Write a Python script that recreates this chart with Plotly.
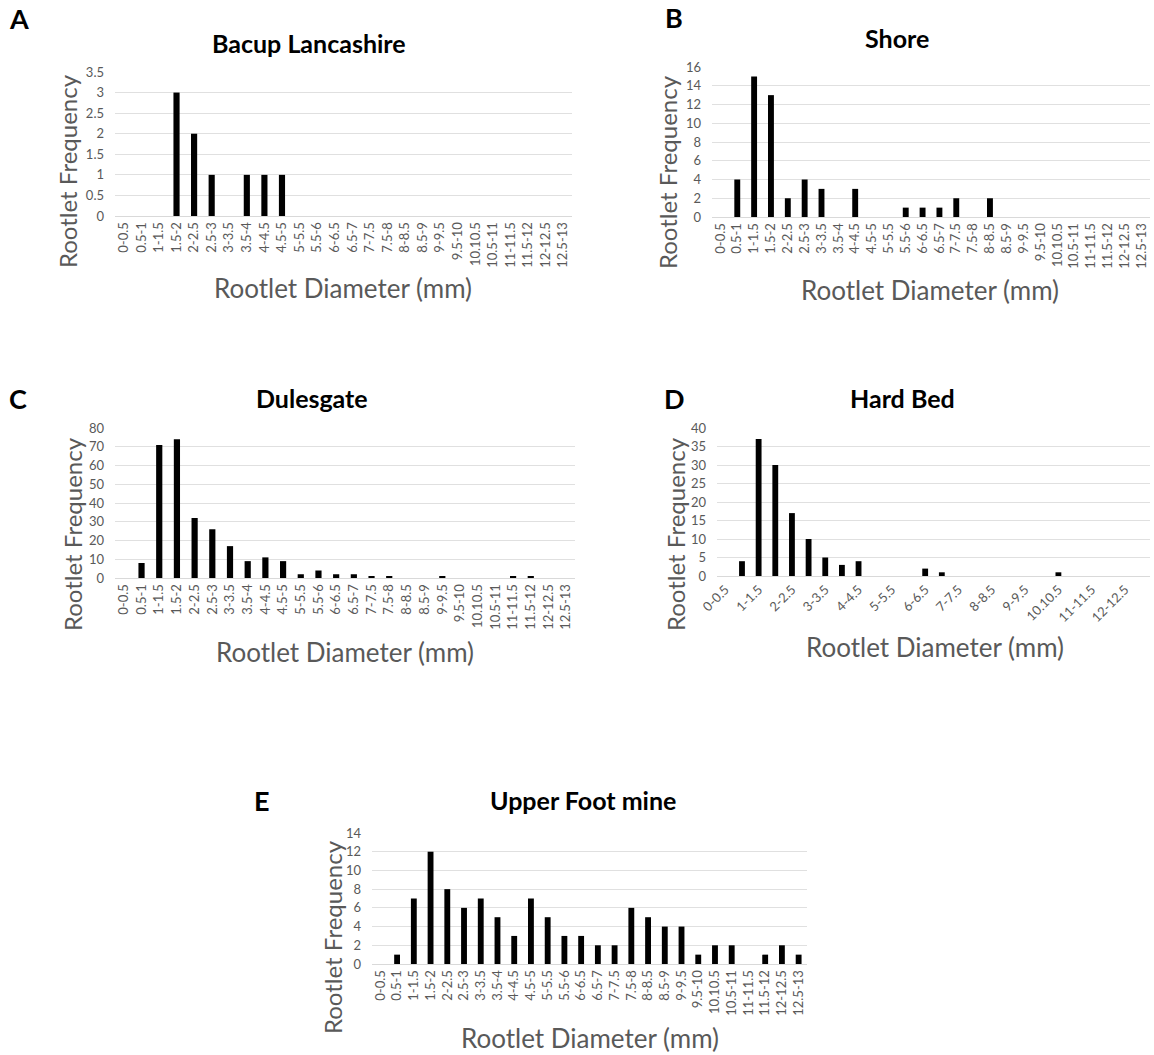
import plotly.graph_objects as go

categories = ["0-0.5", "0.5-1", "1-1.5", "1.5-2", "2-2.5", "2.5-3", "3-3.5", "3.5-4",
              "4-4.5", "4.5-5", "5-5.5", "5.5-6", "6-6.5", "6.5-7", "7-7.5", "7.5-8",
              "8-8.5", "8.5-9", "9-9.5", "9.5-10", "10.10.5", "10.5-11", "11-11.5",
              "11.5-12", "12-12.5", "12.5-13"]

bacup = [0, 0, 0, 3, 2, 1, 0, 1, 1, 1, 0, 0, 0, 0, 0, 0, 0, 0, 0, 0, 0, 0, 0, 0, 0, 0]
shore = [0, 4, 15, 13, 2, 4, 3, 0, 3, 0, 0, 1, 1, 1, 2, 0, 2, 0, 0, 0, 0, 0, 0, 0, 0, 0]
dulesgate = [0, 8, 71, 74, 32, 26, 17, 9, 11, 9, 2, 4, 2, 2, 1, 1, 0, 0, 1, 0, 0, 0, 1, 1, 0, 0]
hard_bed = [0, 4, 37, 30, 17, 10, 5, 3, 4, 0, 0, 0, 2, 1, 0, 0, 0, 0, 0, 0, 1, 0, 0, 0, 0, 0]
upper_foot = [0, 1, 7, 12, 8, 6, 7, 5, 3, 7, 5, 3, 3, 2, 2, 6, 5, 4, 4, 1, 2, 2, 0, 1, 2, 1]

titles = ["Bacup Lancashire", "Shore", "Dulesgate", "Hard Bed", "Upper Foot mine"]
letters = ["A", "B", "C", "D", "E"]
y_max = [3.5, 16, 80, 40, 14]
y_step = [0.5, 2, 10, 5, 2]
series = [bacup, shore, dulesgate, hard_bed, upper_foot]

W, H = 1154, 1055
FONT = "Lato, 'Open Sans', sans-serif"
GRAY = "#595959"

# pixel layout: plot area (x0, x1, y0, y1), title pos, letter pos, ytitle pos, xtitle pos
panels = [
    dict(area=(115, 572, 72, 216), title=(309, 43), letter=(19, 19), ytitle=(67, 171), xtitle=(343, 288)),
    dict(area=(712, 1150, 67, 217), title=(897, 38), letter=(674, 18), ytitle=(667, 172), xtitle=(930, 290)),
    dict(area=(115, 575, 428, 578), title=(312, 398), letter=(18, 398), ytitle=(72, 534), xtitle=(345, 652)),
    dict(area=(717, 1150, 428, 576), title=(903, 398), letter=(675, 398), ytitle=(675, 534), xtitle=(935, 647)),
    dict(area=(372, 807, 833, 964), title=(583, 800), letter=(262, 800), ytitle=(332, 937), xtitle=(590, 1038)),
]

def px(x):
    return x / W

def py(y):
    return 1 - y / H

fig = go.Figure()
layout = dict(
    width=W, height=H, margin=dict(l=0, r=0, t=0, b=0, autoexpand=False),
    paper_bgcolor="white", plot_bgcolor="white", showlegend=False,
    bargap=0.65, font=dict(family=FONT, color=GRAY),
)
annotations = []

for i, p in enumerate(panels):
    n = "" if i == 0 else str(i + 1)
    x0, x1, y0, y1 = p["area"]
    fig.add_trace(go.Bar(x=categories, y=series[i], marker=dict(color="black", line=dict(width=0)),
                         xaxis="x" + n, yaxis="y" + n))
    xa = dict(domain=[px(x0), px(x1)], anchor="y" + n, type="category", automargin=False,
              categoryorder="array", categoryarray=categories,
              showgrid=False, showline=True, linecolor="#d9d9d9", linewidth=1,
              ticks="", tickfont=dict(size=13, color=GRAY, family=FONT),
              tickangle=-90, fixedrange=True)
    if i == 3:
        xa.update(tickmode="array", tickvals=categories[::2], ticktext=categories[::2], tickangle=-45)
    ya = dict(domain=[py(y1), py(y0)], anchor="x" + n, range=[0, y_max[i]], automargin=False,
              tick0=0, dtick=y_step[i], showgrid=True, gridcolor="#e0e0e0", gridwidth=1,
              zeroline=False, showline=False, ticks="",
              tickfont=dict(size=13, color=GRAY, family=FONT), ticklabelstandoff=10,
              fixedrange=True)
    layout["xaxis" + n] = xa
    layout["yaxis" + n] = ya

    annotations.append(dict(text="<b>" + titles[i] + "</b>", x=px(p["title"][0]), y=py(p["title"][1]),
                            xref="paper", yref="paper", showarrow=False, xanchor="center", yanchor="middle",
                            font=dict(size=25, color="black", family=FONT)))
    annotations.append(dict(text="<b>" + letters[i] + "</b>", x=px(p["letter"][0]), y=py(p["letter"][1]),
                            xref="paper", yref="paper", showarrow=False, xanchor="center", yanchor="middle",
                            font=dict(size=27, color="black", family=FONT)))
    annotations.append(dict(text="Rootlet Frequency", x=px(p["ytitle"][0]), y=py(p["ytitle"][1]),
                            xref="paper", yref="paper", showarrow=False, xanchor="center", yanchor="middle",
                            textangle=-90, font=dict(size=24, color=GRAY, family=FONT)))
    annotations.append(dict(text="Rootlet Diameter (mm)", x=px(p["xtitle"][0]), y=py(p["xtitle"][1]),
                            xref="paper", yref="paper", showarrow=False, xanchor="center", yanchor="middle",
                            font=dict(size=26, color=GRAY, family=FONT)))

layout["annotations"] = annotations
fig.update_layout(**layout)
fig.write_html("out.html", config={"displayModeBar": False},
               post_script="document.body.style.margin='0px';document.body.style.overflow='hidden';")
